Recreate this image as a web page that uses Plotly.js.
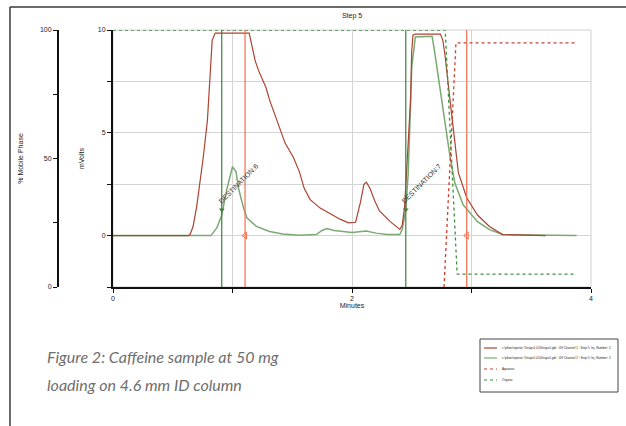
<!DOCTYPE html>
<html>
<head>
<meta charset="utf-8">
<script src="https://cdn.plot.ly/plotly-3.0.1.min.js"></script>
<style>html,body{margin:0;padding:0;background:#fff;}#chart{width:626px;height:426px;}</style>
</head>
<body>
<div id="chart"></div>
<script>
// ---- data ----
const seriesNames = [
  "c:\\pfizer\\operat~1\\trapv1.014\\trapv1.gdt : UV Channel 1 : Step 5: Inj. Number: 5",
  "c:\\pfizer\\operat~1\\trapv1.014\\trapv1.gdt : UV Channel 2 : Step 5: Inj. Number: 5",
  "Aqueous",
  "Organic"
];
const uv1Minutes = [0,0.63,0.645,0.67,0.70,0.73,0.755,0.79,0.80,0.83,0.855,1.14,1.16,1.19,1.22,1.25,1.28,1.31,1.37,1.44,1.51,1.56,1.60,1.65,1.73,1.82,1.90,1.97,2.03,2.07,2.10,2.12,2.15,2.19,2.23,2.32,2.40,2.42,2.44,2.47,2.49,2.50,2.51,2.53,2.74,2.76,2.78,2.82,2.86,2.89,2.96,3.05,3.15,3.26,3.62];
const uv1MilliVolts = [0,0,0.05,0.44,1.4,2.6,3.8,5.6,6.6,9.5,9.85,9.85,9.3,8.5,8.0,7.6,7.2,6.6,5.6,4.5,3.8,3.1,2.3,1.75,1.35,1.05,0.8,0.62,0.65,1.6,2.5,2.6,2.3,1.7,1.2,0.68,0.3,0.5,1.4,4.5,6.6,9.0,9.75,9.8,9.8,9.5,8.7,6.6,4.66,3.06,1.84,1.0,0.44,0.05,0];
const uv2Minutes = [0,0.82,0.87,0.91,0.95,0.99,1.0,1.03,1.05,1.09,1.12,1.2,1.31,1.42,1.56,1.70,1.75,1.79,1.85,2.0,2.12,2.2,2.3,2.4,2.42,2.45,2.47,2.48,2.50,2.53,2.67,2.69,2.75,2.80,2.82,2.86,2.93,3.05,3.15,3.26,3.88];
const uv2MilliVolts = [0,0,0.39,1.0,2.2,3.1,3.35,3.1,2.3,1.4,0.87,0.45,0.2,0.08,0.02,0.05,0.25,0.34,0.25,0.15,0.22,0.12,0.05,0.05,0.3,1.26,3.0,4.66,8.2,9.66,9.7,9.0,6.6,4.5,3.85,2.57,1.5,0.68,0.29,0.05,0];
const aqueousMinutes = [2.77,2.87,3.87];
const aqueousPercent = [0,95,95];
const organicMinutes = [0,2.78,2.88,3.87];
const organicPercent = [100,100,5,5];
const collectStart = [0.91, 2.45];      // minutes
const collectEnd = [1.105, 2.96];       // minutes
const startMarkerMv = [1.26, 1.26];
const endMarkerMv = [0, 0];
const destinationLabels = ["DESTINATION:6", "DESTINATION:7"];
const destinationLabelMinutes = [1.05, 2.58];
const destinationLabelMv = [2.55, 2.55];
const minuteTicks = [0,1,2,3,4];
const minuteTickText = ["0","","2","","4"];
const mvTicks = [-2.5,0,2.5,5,7.5,10];
const mvTickText = ["","0","","5","","10"];
const pctTicks = [0,25,50,75,100];
const pctTickText = ["0","","50","","100"];
const captionLines = ["Figure 2: Caffeine sample at 50 mg", "loading on 4.6 mm ID column"];

// ---- styles ----
const colUV1 = "#ad4330", colUV2 = "#7aaa72", colAq = "#c8402e", colOrg = "#3f8f3f";
const colStart = "#3f7f3f", colEnd = "#f36f4c";
const tickFont = {family:"Liberation Sans, Arial, sans-serif", size:7, color:"#222"};

// pixel helpers for paper coordinates (margins below)
const W = 626, H = 426, ML = 20, MR = 35, MT = 30, MB = 139;
const PW = W - ML - MR, PH = H - MT - MB;
const px = v => (v - ML) / PW;
const py = v => (H - MB - v) / PH;

const traces = [
  {x: uv2Minutes, y: uv2MilliVolts, name: seriesNames[1], type:"scatter", mode:"lines", line:{color:colUV2, width:1.5}, xaxis:"x", yaxis:"y"},
  {x: uv1Minutes, y: uv1MilliVolts, name: seriesNames[0], type:"scatter", mode:"lines", line:{color:colUV1, width:1.2}, xaxis:"x", yaxis:"y"},
  {x: aqueousMinutes, y: aqueousPercent, name: seriesNames[2], type:"scatter", mode:"lines", line:{color:colAq, width:1.3, dash:"dot"}, xaxis:"x", yaxis:"y2"},
  {x: organicMinutes, y: organicPercent, name: seriesNames[3], type:"scatter", mode:"lines", line:{color:colOrg, width:1.3, dash:"dot"}, xaxis:"x", yaxis:"y2"},
  {x: collectStart, y: startMarkerMv, type:"scatter", mode:"markers", marker:{symbol:"triangle-down", size:5, color:colStart}, showlegend:false, xaxis:"x", yaxis:"y", hoverinfo:"skip"},
  {x: collectEnd, y: endMarkerMv, type:"scatter", mode:"markers", marker:{symbol:"triangle-left-open", size:6, color:colEnd, line:{width:1}}, showlegend:false, xaxis:"x", yaxis:"y", hoverinfo:"skip"}
];

const shapes = [];
// plot border (grey, top/right)
shapes.push({type:"rect", xref:"x domain", yref:"y domain", x0:0, x1:1, y0:0, y1:1, line:{color:"#cfcfcf", width:1}, layer:"below"});
// collection start / end lines
collectStart.forEach(t => shapes.push({type:"line", xref:"x", yref:"y domain", x0:t, x1:t, y0:0, y1:1, line:{color:colStart, width:1.2}}));
collectEnd.forEach(t => shapes.push({type:"line", xref:"x", yref:"y domain", x0:t, x1:t, y0:0, y1:1, line:{color:colEnd, width:1.2}}));
// outer frame (top + left)
shapes.push({type:"line", xref:"paper", yref:"paper", x0:px(10), x1:px(626), y0:py(7), y1:py(7), line:{color:"#3a3a3a", width:1.5}});
shapes.push({type:"line", xref:"paper", yref:"paper", x0:px(10), x1:px(10), y0:py(7), y1:py(426), line:{color:"#3a3a3a", width:1.5}});
// legend box
const LB = {l:480, r:618, t:339, b:392};
shapes.push({type:"rect", xref:"paper", yref:"paper", x0:px(LB.l), x1:px(LB.r), y0:py(LB.b), y1:py(LB.t), line:{color:"#444", width:1}, fillcolor:"#fff"});
const legendRows = [348, 358, 369, 380];
const legendStyles = [{color:colUV1, dash:"solid"},{color:colUV2, dash:"solid"},{color:colAq, dash:"dot"},{color:colOrg, dash:"dot"}];
legendRows.forEach((r,i) => shapes.push({type:"line", xref:"paper", yref:"paper", x0:px(484), x1:px(497), y0:py(r), y1:py(r), line:{color:legendStyles[i].color, width:1.2, dash:legendStyles[i].dash}}));

const annotations = [];
destinationLabels.forEach((s,i) => annotations.push({text:s, x:destinationLabelMinutes[i], y:destinationLabelMv[i], xref:"x", yref:"y", showarrow:false, textangle:-45, font:{family:"Liberation Sans, Arial, sans-serif", size:7, color:"#333"}}));
legendRows.forEach((r,i) => annotations.push({text:seriesNames[i], xref:"paper", yref:"paper", x:px(500), y:py(r), xanchor:"left", yanchor:"middle", showarrow:false, font:{family:"Liberation Sans, Arial, sans-serif", size:3.1, color:"#222"}}));
captionLines.forEach((s,i) => annotations.push({text:s, xref:"paper", yref:"paper", x:px(45), y:py(356 + i*28), xanchor:"left", yanchor:"middle", showarrow:false, font:{family:"Lato, Open Sans, sans-serif", size:16, color:"#6e6e6e", style:"italic"}}));

const layout = {
  width: W, height: H,
  margin: {l:ML, r:MR, t:MT, b:MB, pad:0},
  paper_bgcolor:"#fff", plot_bgcolor:"#fff",
  showlegend:false,
  title: {text:"Step 5", font:{family:"Liberation Sans, Arial, sans-serif", size:7, color:"#222"}, xref:"container", yref:"container", x:352/W, y:1-16/H, xanchor:"center", yanchor:"middle"},
  xaxis: {domain:[px(113), 1], range:[0,4], tickvals:minuteTicks, ticktext:minuteTickText, ticks:"outside", ticklen:4, tickcolor:"#111", tickfont:tickFont,
          showline:true, linecolor:"#111", linewidth:2, showgrid:true, gridcolor:"#d4d4d4", gridwidth:1, zeroline:false,
          title:{text:"Minutes", font:tickFont, standoff:2}, automargin:false},
  yaxis: {range:[-2.5,10], tickvals:mvTicks, ticktext:mvTickText, ticks:"outside", ticklen:4, tickcolor:"#111", tickfont:tickFont,
          showline:true, linecolor:"#111", linewidth:2, showgrid:true, gridcolor:"#d4d4d4", gridwidth:1, zeroline:false,
          title:{text:"mVolts", font:tickFont, standoff:12}, automargin:false},
  yaxis2: {range:[0,100], overlaying:"y", anchor:"free", position:px(57), side:"left", tickvals:pctTicks, ticktext:pctTickText, ticks:"outside", ticklen:4, tickcolor:"#111", tickfont:tickFont,
          showline:true, linecolor:"#111", linewidth:1.5, showgrid:false, zeroline:false,
          title:{text:"% Mobile Phase", font:tickFont, standoff:14}, automargin:false},
  shapes: shapes,
  annotations: annotations
};

Plotly.newPlot("chart", traces, layout, {staticPlot:true, displayModeBar:false});
</script>
</body>
</html>
